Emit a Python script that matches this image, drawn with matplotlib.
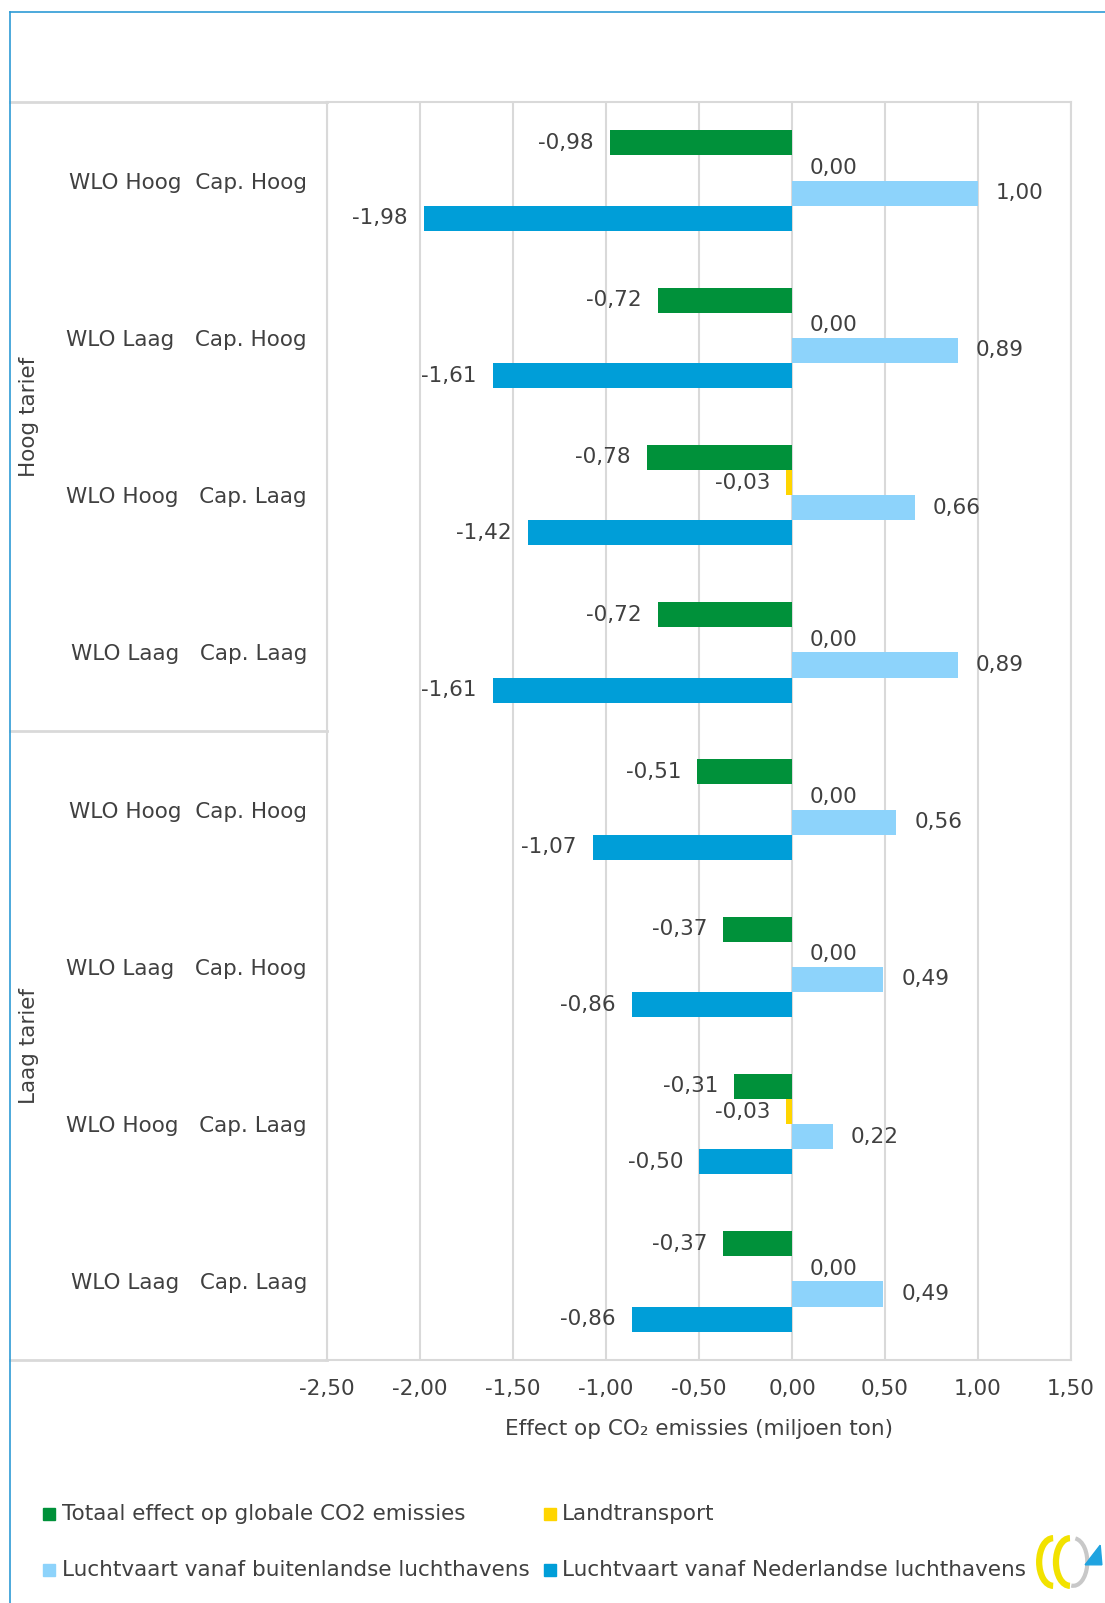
import matplotlib
matplotlib.use("Agg")
import matplotlib.pyplot as plt
from matplotlib.patches import Rectangle, Arc, Polygon
from matplotlib.lines import Line2D
from matplotlib.transforms import blended_transform_factory
import numpy as np

plt.rcParams['font.family'] = ['DejaVu Sans']

categories = ["WLO Hoog  Cap. Hoog", "WLO Laag   Cap. Hoog", "WLO Hoog   Cap. Laag", "WLO Laag   Cap. Laag",
              "WLO Hoog  Cap. Hoog", "WLO Laag   Cap. Hoog", "WLO Hoog   Cap. Laag", "WLO Laag   Cap. Laag"]
groups = ["Hoog tarief", "Laag tarief"]
series_names = ["Totaal effect op globale CO2 emissies", "Landtransport",
                "Luchtvaart vanaf buitenlandse luchthavens", "Luchtvaart vanaf Nederlandse luchthavens"]
totaal = [-0.98, -0.72, -0.78, -0.72, -0.51, -0.37, -0.31, -0.37]
landtransport = [0.00, 0.00, -0.03, 0.00, 0.00, 0.00, -0.03, 0.00]
buitenland = [1.00, 0.89, 0.66, 0.89, 0.56, 0.49, 0.22, 0.49]
nederland = [-1.98, -1.61, -1.42, -1.61, -1.07, -0.86, -0.50, -0.86]
xticks = [-2.5, -2.0, -1.5, -1.0, -0.5, 0.0, 0.5, 1.0, 1.5]

colors = ["#00913A", "#FFD500", "#8DD3FB", "#009ED8"]
txt = "#404040"
grid = "#D9D9D9"
FS = 15.5

W, H = 1105, 1603
fig = plt.figure(figsize=(W / 100, H / 100), dpi=100)
ax_left, ax_right, ax_top, ax_bot = 327, 1071, 102, 1360
ax = fig.add_axes([ax_left / W, 1 - ax_bot / H, (ax_right - ax_left) / W, (ax_bot - ax_top) / H])

n = len(categories)
y = np.arange(n)
h = 0.16
offs = [-1.5 * h, -0.5 * h, 0.5 * h, 1.5 * h]
all_series = [totaal, landtransport, buitenland, nederland]
for vals, off, col in zip(all_series, offs, colors):
    ax.barh(y + off, vals, height=h, color=col, zorder=3)
    for yi, v in zip(y + off, vals):
        lab = f"{v:.2f}".replace(".", ",")
        if v < 0:
            ax.annotate(lab, (v, yi), xytext=(-16, 0), textcoords="offset pixels",
                        ha="right", va="center", fontsize=FS, color=txt)
        else:
            ax.annotate(lab, (v, yi), xytext=(18, 0), textcoords="offset pixels",
                        ha="left", va="center", fontsize=FS, color=txt)

ax.set_xlim(-2.5, 1.5)
ax.set_ylim(n - 0.5, -0.5)
ax.set_xticks(xticks)
ax.set_xticklabels([f"{t:.2f}".replace(".", ",") for t in xticks], fontsize=FS, color=txt)
ax.set_yticks(y)
ax.set_yticklabels(categories, fontsize=FS, color=txt)
ax.tick_params(axis="both", length=0)
ax.tick_params(axis="y", pad=14.4)
ax.tick_params(axis="x", pad=14)
ax.xaxis.grid(True, color=grid, linewidth=1.5, zorder=0)
ax.set_axisbelow(True)
for s in ax.spines.values():
    s.set_color(grid)
    s.set_linewidth(1.5)
ax.set_xlabel("Effect op CO₂ emissies (miljoen ton)", fontsize=FS, color=txt, labelpad=14)

# separator lines in the label area
tr = blended_transform_factory(fig.transFigure, ax.transData)
xl = 10.2 / W
for yy in [-0.5, 3.5, n - 0.5]:
    ax.plot([xl, ax_left / W], [yy, yy], transform=tr, color=grid, linewidth=2, clip_on=False)

# group labels
ax.text(29 / W, 1.5, groups[0], transform=tr, rotation=90, ha="center", va="center", fontsize=FS, color=txt)
ax.text(29 / W, 5.5, groups[1], transform=tr, rotation=90, ha="center", va="center", fontsize=FS, color=txt)

# outer border
bc = "#2E9BD6"
fig.add_artist(Line2D([10.2 / W, 1], [1 - 12.3 / H, 1 - 12.3 / H], color=bc, linewidth=1.2))
fig.add_artist(Line2D([10.2 / W, 10.2 / W], [0, 1 - 12.3 / H], color=bc, linewidth=1.2))

# legend
rows = [1514, 1570]
cols = [(43, 62), (544, 562)]
sq = 12
for i, (name, col) in enumerate(zip(series_names, colors)):
    r = rows[i // 2]
    cx, tx = cols[i % 2]
    fig.add_artist(Rectangle((cx / W, 1 - (r + sq / 2) / H), sq / W, sq / H, color=col,
                             transform=fig.transFigure))
    fig.text(tx / W, 1 - r / H, name, ha="left", va="center", fontsize=FS, color=txt)

# small logo approximation
lax = fig.add_axes([1033 / W, 1 - 1590 / H, 70 / W, 56 / H])
lax.set_xlim(0, 1.25)
lax.set_ylim(0, 1)
lax.axis("off")
lax.add_patch(Arc((0.72, 0.5), 0.5, 0.85, theta1=-95, theta2=85, color="#C8C8C8", lw=3))
lax.add_patch(Arc((0.36, 0.5), 0.5, 0.85, theta1=90, theta2=270, color="#F2E200", lw=4.5))
lax.add_patch(Arc((0.66, 0.5), 0.5, 0.85, theta1=90, theta2=270, color="#F2E200", lw=4.5))
lax.add_patch(Polygon([[0.93, 0.45], [1.23, 0.45], [1.2, 0.8]], closed=True, color="#1FA3E0"))

fig.savefig("out.png", dpi=100)
